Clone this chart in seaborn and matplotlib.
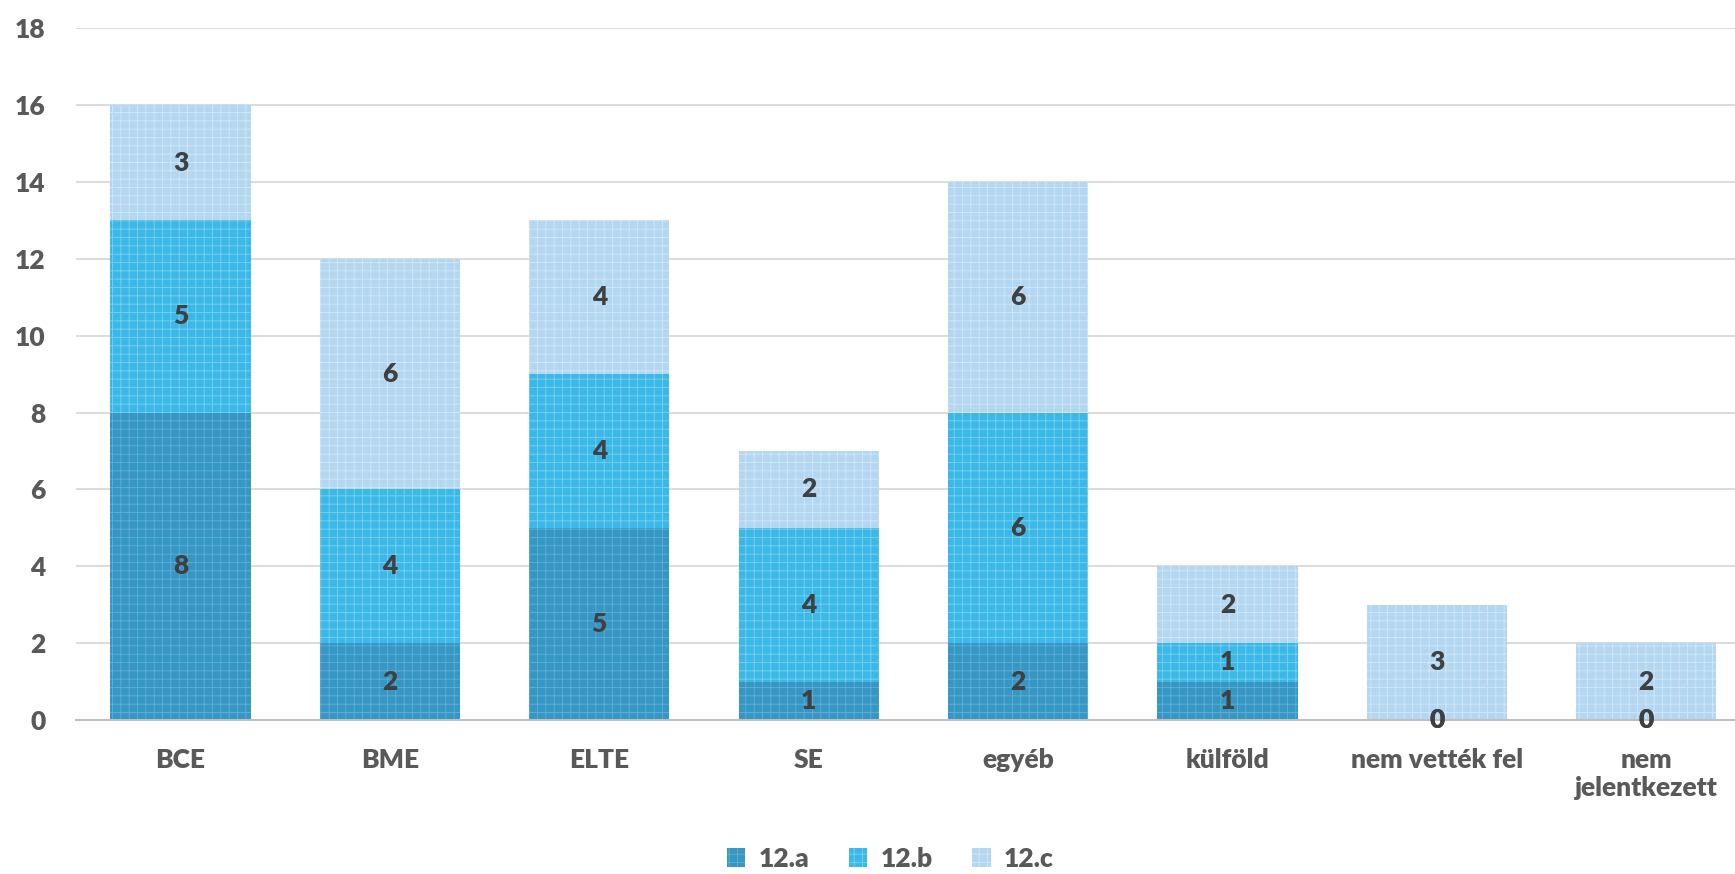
import numpy as np
import pandas as pd
import matplotlib
matplotlib.use("Agg")
import matplotlib.pyplot as plt
import seaborn as sns

categories = ["BCE", "BME", "ELTE", "SE", "egyéb", "külföld", "nem vették fel", "nem\njelentkezett"]
class_a = [8, 2, 5, 1, 2, 1, 0, 0]
class_b = [5, 4, 4, 4, 6, 1, 0, 0]
class_c = [3, 6, 4, 2, 6, 2, 3, 2]
series_names = ["12.a", "12.b", "12.c"]

sns.set_theme(style="white")
plt.rcParams["font.family"] = ["Lato", "DejaVu Sans"]
plt.rcParams["hatch.linewidth"] = 0.6

df = pd.DataFrame({"cat": categories, "12.a": class_a, "12.b": class_b, "12.c": class_c})

colors = ["#3797c4", "#3ab8e8", "#b3d7f1"]
hatch_colors = ["#5fb0d6", "#7fd0f0", "#d3e8f7"]

fig = plt.figure(figsize=(17.35, 8.74), dpi=100)
ax = fig.add_axes([0.0437, 0.176, 0.9563, 0.792])

bottom = np.zeros(len(categories))
for name, col, hcol in zip(series_names, colors, hatch_colors):
    sns.barplot(data=df, x="cat", y=name, bottom=bottom, color=col, width=0.67,
                edgecolor=hcol, linewidth=0, hatch="++", label=name, ax=ax,
                saturation=1)
    bottom = bottom + df[name].values

for cont in ax.containers:
    ax.bar_label(cont, label_type="center", fontsize=19, fontweight="heavy", color="#404040")

ax.set_ylim(0, 18)
ax.set_yticks(range(0, 19, 2))
ax.set_xlim(-0.5, 7.424)
ax.set_xlabel("")
ax.set_ylabel("")
ax.yaxis.grid(True, color="#d9d9d9", linewidth=1.3)
ax.set_axisbelow(True)
for s in ["left", "right", "top"]:
    ax.spines[s].set_visible(False)
ax.spines["bottom"].set_color("#bfbfbf")
ax.spines["bottom"].set_linewidth(1.5)
ax.tick_params(axis="both", length=0, labelsize=19, labelcolor="#595959")
for lbl in ax.get_xticklabels() + ax.get_yticklabels():
    lbl.set_fontweight("heavy")
ax.tick_params(axis="x", pad=20)
ax.tick_params(axis="y", pad=22)

leg = ax.legend(loc="center", bbox_to_anchor=(0.491, -0.2), ncol=3, frameon=False,
                fontsize=19, handlelength=0.7, handleheight=0.7, columnspacing=1.5,
                handletextpad=0.5)
for t in leg.get_texts():
    t.set_color("#595959")
    t.set_fontweight("heavy")

fig.savefig("out.png", dpi=100)
